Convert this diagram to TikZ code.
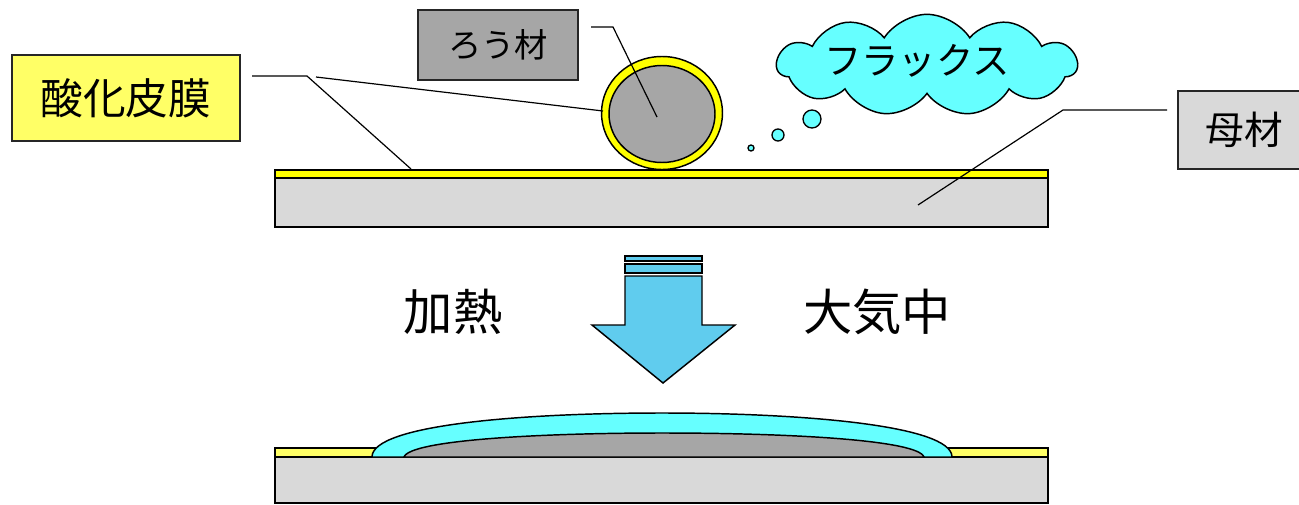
\documentclass[tikz,border=0pt]{standalone}
\usepackage{fontspec}
\newfontfamily\jpfont{Noto Sans CJK JP}
\usetikzlibrary{positioning,shapes.geometric,shapes.symbols}
\definecolor{oxideyel}{HTML}{FFFF66}
\definecolor{filmyel}{HTML}{FFFF00}
\definecolor{basegrey}{HTML}{D9D9D9}
\definecolor{fillergrey}{HTML}{A6A6A6}
\definecolor{fluxcyan}{HTML}{66FFFF}
\definecolor{arrowblue}{HTML}{60CCEE}
\definecolor{edgegrey}{HTML}{262626}

\begin{document}
\begin{tikzpicture}[
  x=0.75pt, y=-0.75pt,
  plate/.style={draw=black, line width=1.3pt, fill=basegrey},
  film/.style={draw=black, line width=1.1pt},
  leader/.style={draw=black, line width=0.9pt},
  % label boxes, sized in pt (1 px = 0.75 pt)
  labelbox/.style={draw=edgegrey, line width=1.3pt, inner sep=0,
                   font=\jpfont, text=black},
  bubble/.style={draw=black, line width=1pt, fill=fluxcyan},
  bigtext/.style={font=\jpfont\fontsize{37}{40}\selectfont, inner sep=0}
]
\useasboundingbox (0,0) rectangle (1299,504);

% ---- before heating -----------------------------------------------------
\draw[plate] (275,178) rectangle (1048,227);
\draw[film, fill=filmyel] (275,170) rectangle (1048,178);

% filler ball: oxide shell round a grey core
\draw[film, fill=filmyel] (662,113) ellipse [x radius=60.5, y radius=56.5];
\draw[film, fill=fillergrey] (662,114) ellipse [x radius=53, y radius=48.5];

% flux cloud and its bubbles
\node[cloud, cloud puffs=11, cloud puff arc=115, aspect=3,
      draw=black, line width=1.1pt, fill=fluxcyan,
      minimum width=225pt, minimum height=76pt, inner sep=0]
  (flux) at (927,65) {};
\node[font=\jpfont\fontsize{28}{30}\selectfont, inner sep=0]
  (fluxtxt) at (917,61) {フラックス};
\draw[bubble] (751,148) circle [radius=3];
\draw[bubble] (778,135) circle [radius=6];
\draw[bubble] (812,119) circle [radius=9];

% label boxes
\node[labelbox, fill=oxideyel, minimum width=171pt, minimum height=64.5pt,
      font=\jpfont\fontsize{32}{36}\selectfont] (oxide) at (126,98) {酸化皮膜};
\node[labelbox, fill=fillergrey, minimum width=120pt, minimum height=52.5pt,
      font=\jpfont\fontsize{25}{28}\selectfont] (filler) at (498,45) {ろう材};
\node[labelbox, fill=basegrey, minimum width=99pt, minimum height=58.5pt,
      font=\jpfont\fontsize{29}{32}\selectfont] (base) at (1244,130) {母材};

% leader lines
\coordinate (oxA) at (252,76);
\coordinate (oxB) at (307,76);
\coordinate (oxC) at (411,169);
\coordinate (oxD) at (316,77);
\coordinate (oxE) at (603,111);
\draw[leader] (oxA) -- (oxB) -- (oxC);
\draw[leader] (oxD) -- (oxE);

\coordinate (fiA) at (591,27);
\coordinate (fiB) at (613,27);
\coordinate (fiC) at (657,117);
\draw[leader] (fiA) -- (fiB) -- (fiC);

\coordinate (baA) at (1167,110);
\coordinate (baB) at (1063,110);
\coordinate (baC) at (918,205);
\draw[leader] (baA) -- (baB) -- (baC);

% ---- heating step arrow ---------------------------------------------------
\draw[film, fill=arrowblue] (625,256) rectangle (702,261);
\draw[film, fill=arrowblue] (625,264) rectangle (702,273);
\draw[film, fill=arrowblue, line join=miter]
  (625,276) -- (702,276) -- (702,325) -- (735,325) -- (663,383)
  -- (592,325) -- (625,325) -- cycle;
\node[bigtext] (heat) at (453,312) {加熱};
\node[bigtext] (air) at (877,312) {大気中};

% ---- after heating ------------------------------------------------------
\draw[plate] (275,457) rectangle (1048,503);
\draw[film, fill=oxideyel] (275,448) rectangle (1048,457);
\draw[film, fill=fluxcyan]
  (372,457) .. controls (372,425) and (520,413) .. (662,413)
  .. controls (800,413) and (952,425) .. (952,457) -- cycle;
\draw[film, fill=fillergrey]
  (404,457) .. controls (410,440) and (540,433) .. (662,433)
  .. controls (790,433) and (918,440) .. (924,457) -- cycle;
\end{tikzpicture}
\end{document}
